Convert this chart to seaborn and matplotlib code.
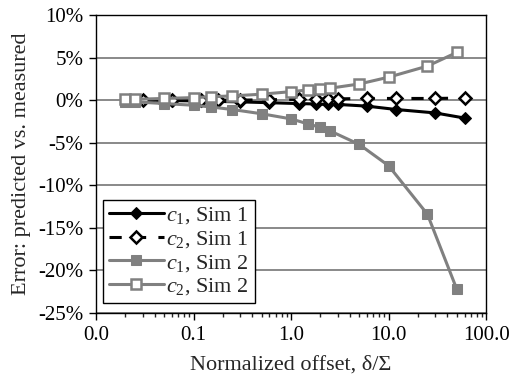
import numpy as np
import pandas as pd
import matplotlib
matplotlib.use("Agg")
import matplotlib.pyplot as plt
import matplotlib.ticker as mticker
import seaborn as sns

# data (errors in percent)
x_sim1 = [0.03, 0.06, 0.12, 0.18, 0.3, 0.6, 1.2, 1.8, 2.4, 3.0, 6.0, 12.0, 30.0, 60.0]
c1_sim1 = [0.0, -0.05, -0.1, -0.15, -0.2, -0.3, -0.4, -0.45, -0.5, -0.5, -0.7, -1.1, -1.5, -2.1]
c2_sim1 = [0.0, 0.0, 0.0, 0.0, 0.0, 0.05, 0.1, 0.1, 0.15, 0.15, 0.2, 0.2, 0.2, 0.25]

x_sim2 = [0.02, 0.025, 0.05, 0.1, 0.15, 0.25, 0.5, 1.0, 1.5, 2.0, 2.5, 5.0, 10.0, 25.0, 50.0]
c1_sim2 = [-0.2, -0.2, -0.4, -0.6, -0.8, -1.1, -1.6, -2.2, -2.8, -3.2, -3.6, -5.2, -7.7, -13.4, -22.2]
c2_sim2 = [0.1, 0.1, 0.2, 0.3, 0.4, 0.5, 0.7, 1.0, 1.2, 1.3, 1.4, 1.9, 2.7, 4.0, 5.6]

series_labels = [r"$c_1$, Sim 1", r"$c_2$, Sim 1", r"$c_1$, Sim 2", r"$c_2$, Sim 2"]
y_ticks = [10, 5, 0, -5, -10, -15, -20, -25]
x_ticks = [0.01, 0.1, 1, 10, 100]

sns.set_style("white")
plt.rcParams["font.family"] = ["Liberation Serif", "DejaVu Serif"]
plt.rcParams["mathtext.fontset"] = "custom"
plt.rcParams["mathtext.rm"] = "Liberation Serif"
plt.rcParams["mathtext.it"] = "Liberation Serif:italic"

fs = 16
fig = plt.figure(figsize=(5.12, 3.85), dpi=100)
ax = fig.add_axes([0.1875, 0.187, 0.762, 0.774])

grey = "#808080"
sns.lineplot(x=x_sim1, y=c1_sim1, ax=ax, color="black", lw=2.2, marker="D",
             markersize=6, markerfacecolor="black", markeredgecolor="black",
             label=series_labels[0])
sns.lineplot(x=x_sim1, y=c2_sim1, ax=ax, color="black", lw=2.2, linestyle=(0, (4, 4)),
             marker="D", markersize=6, markerfacecolor="white", markeredgecolor="black",
             markeredgewidth=1.8, label=series_labels[1])
sns.lineplot(x=x_sim2, y=c1_sim2, ax=ax, color=grey, lw=2.2, marker="s",
             markersize=7, markerfacecolor=grey, markeredgecolor=grey,
             label=series_labels[2])
sns.lineplot(x=x_sim2, y=c2_sim2, ax=ax, color=grey, lw=2.2, marker="s",
             markersize=7, markerfacecolor="white", markeredgecolor=grey,
             markeredgewidth=1.8, label=series_labels[3])

ax.set_xscale("log")
ax.set_xlim(0.01, 100)
ax.set_ylim(-25, 10)
ax.set_xticks(x_ticks)
ax.xaxis.set_major_formatter(mticker.FuncFormatter(lambda v, p: f"{v:.1f}"))
ax.xaxis.set_minor_locator(mticker.LogLocator(base=10, subs=np.arange(2, 10)))
ax.xaxis.set_minor_formatter(mticker.NullFormatter())
ax.set_yticks(y_ticks)
ax.yaxis.set_major_formatter(mticker.FuncFormatter(lambda v, p: f"{v:.0f}%"))

ax.grid(axis="y", color=grey, lw=1.3)
ax.set_axisbelow(True)
for s in ax.spines.values():
    s.set_color("black")
    s.set_linewidth(1.0)
ax.tick_params(axis="both", which="major", direction="out", length=5, width=1,
               labelsize=15, colors="black", bottom=True, left=True, pad=4)
ax.tick_params(axis="x", which="minor", direction="out", length=3, width=1, bottom=True)

ax.set_xlabel("Normalized offset, δ/Σ", fontsize=fs, labelpad=8)
ax.set_ylabel("Error: predicted vs. measured", fontsize=fs, labelpad=5)

leg = ax.legend(loc="lower left", bbox_to_anchor=(0.018, 0.034), fontsize=fs,
                frameon=True, fancybox=False, edgecolor="black", framealpha=1,
                handlelength=2.5, handletextpad=0.1, borderpad=0.25, labelspacing=0.12,
                borderaxespad=0)
leg.get_frame().set_linewidth(1.0)

fig.savefig("out.png", dpi=100)
